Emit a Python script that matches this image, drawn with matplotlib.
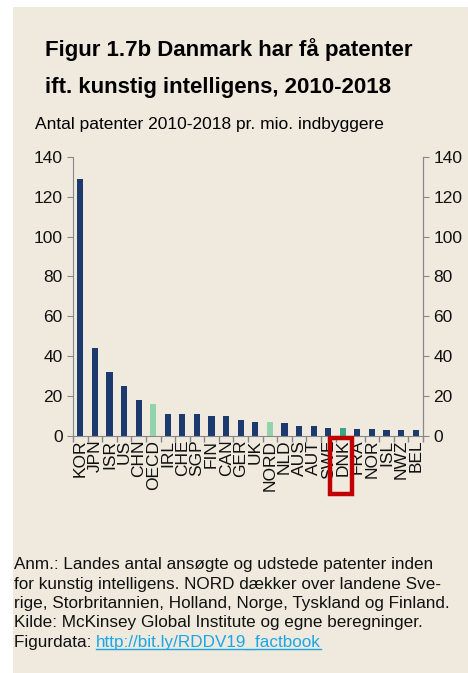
import matplotlib.pyplot as plt
from matplotlib.patches import Rectangle

countries = ["KOR", "JPN", "ISR", "US", "CHN", "OECD", "IRL", "CHE", "SGP", "FIN",
             "CAN", "GER", "UK", "NORD", "NLD", "AUS", "AUT", "SWE", "DNK", "FRA",
             "NOR", "ISL", "NWZ", "BEL"]
patents = [129, 44, 32, 25, 18, 16, 11, 11, 11, 10,
           10, 8, 7, 7, 6.2, 5, 5, 4, 4, 3.2,
           3.2, 3, 3, 3]

navy = "#1c3a6e"
light_green = "#93d3ab"
teal = "#3aa58a"
bg = "#efe9de"
colors = []
for c in countries:
    if c in ("OECD", "NORD"):
        colors.append(light_green)
    elif c == "DNK":
        colors.append(teal)
    else:
        colors.append(navy)

plt.rcParams['font.family'] = ['Liberation Sans', 'DejaVu Sans']

fig = plt.figure(figsize=(4.68, 6.73), dpi=100)
W, H = 468, 673
# beige panel with white margin on top and left
fig.patches.append(Rectangle((13 / W, 0), 1 - 13 / W, 1 - 7 / H, transform=fig.transFigure,
                             facecolor=bg, edgecolor="none", zorder=-10))

ax = fig.add_axes([73 / W, 1 - 435.5 / H, 350 / W, 278.5 / H])
ax.set_facecolor("none")
x = range(len(countries))
ax.bar(x, patents, width=0.42, color=colors, zorder=2)
ax.set_xlim(-0.5, len(countries) - 0.5)
ax.set_ylim(0, 140)
ax.set_yticks(range(0, 141, 20))
ax.set_xticks(x)
ax.set_xticklabels(countries, rotation=90, fontsize=12.5, color="#111111")
ax.set_xticks([i + 0.5 for i in range(-1, len(countries))], minor=True)
ax.tick_params(axis="x", which="major", length=0, pad=3)
ax.tick_params(axis="x", which="minor", length=4, color="#888888", width=1)
ax.tick_params(axis="y", length=4, color="#888888", labelsize=12.5, labelcolor="#111111")
ax.spines["top"].set_visible(False)
for s in ["left", "right", "bottom"]:
    ax.spines[s].set_color("#888888")

ax2 = ax.twinx()
ax2.set_ylim(0, 140)
ax2.set_yticks(range(0, 141, 20))
ax2.tick_params(axis="y", length=4, color="#888888", labelsize=12.5, labelcolor="#111111")
for s in ["top", "left", "bottom"]:
    ax2.spines[s].set_visible(False)
ax2.spines["right"].set_color("#888888")

# red box around DNK label
fig.patches.append(Rectangle((329.5 / W, 1 - 494 / H), 22 / W, 56 / H, transform=fig.transFigure,
                             facecolor="none", edgecolor="#c00000", linewidth=3.2, zorder=5))

fig.text(45 / W, 1 - 50 / H, "Figur 1.7b Danmark har få patenter", fontsize=16,
         fontweight="bold", va="center", ha="left")
fig.text(45 / W, 1 - 87 / H, "ift. kunstig intelligens, 2010-2018", fontsize=16,
         fontweight="bold", va="center", ha="left")
fig.text(35 / W, 1 - 124 / H, "Antal patenter 2010-2018 pr. mio. indbyggere", fontsize=12.5,
         va="center", ha="left")

notes = ["Anm.: Landes antal ansøgte og udstede patenter inden",
         "for kunstig intelligens. NORD dækker over landene Sve-",
         "rige, Storbritannien, Holland, Norge, Tyskland og Finland.",
         "Kilde: McKinsey Global Institute og egne beregninger."]
y0 = 565
fs = 12.3
for i, line in enumerate(notes):
    fig.text(14 / W, 1 - (y0 + i * 19.3) / H, line, fontsize=fs, va="center", ha="left",
             color="#111111")
yl = y0 + 4 * 19.3
t1 = fig.text(14 / W, 1 - yl / H, "Figurdata: ", fontsize=fs, va="center", ha="left",
              color="#111111")
fig.canvas.draw()
bb = t1.get_window_extent()
t2 = fig.text(bb.x1 / W, 1 - yl / H, "http://bit.ly/RDDV19_factbook", fontsize=fs,
              va="center", ha="left", color="#1aa7e6")
fig.canvas.draw()
bb2 = t2.get_window_extent()
fig.add_artist(plt.Line2D([bb2.x0 / W, bb2.x1 / W], [(bb2.y0 + 1) / H, (bb2.y0 + 1) / H],
                          transform=fig.transFigure, color="#1aa7e6", linewidth=1))

fig.savefig("out.png", dpi=100)
